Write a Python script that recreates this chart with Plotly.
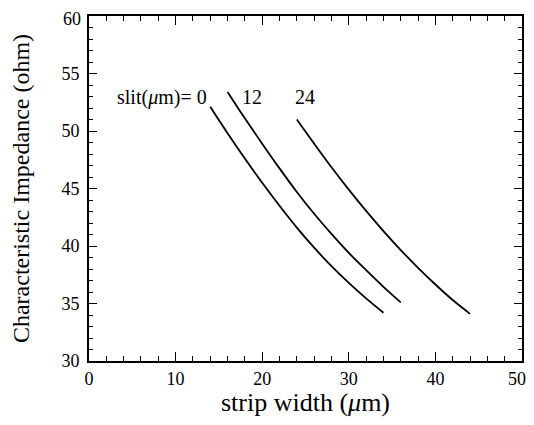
import plotly.graph_objects as go

# strip width (um) and characteristic impedance (ohm) for each slit width
w_slit0 = [14, 16, 18, 20, 22, 24, 26, 28, 30, 32, 34]
z_slit0 = [52.1, 49.8, 47.6, 45.5, 43.5, 41.6, 39.85, 38.25, 36.8, 35.45, 34.2]

w_slit12 = [16, 18, 20, 22, 24, 26, 28, 30, 32, 34, 36]
z_slit12 = [53.4, 51.1, 48.9, 46.75, 44.7, 42.8, 41.05, 39.4, 37.9, 36.45, 35.1]

w_slit24 = [24, 26, 28, 30, 32, 34, 36, 38, 40, 42, 44]
z_slit24 = [51.0, 48.9, 46.85, 44.9, 43.05, 41.3, 39.65, 38.1, 36.65, 35.3, 34.1]

x_ticks = [0, 10, 20, 30, 40, 50]
y_ticks = [30, 35, 40, 45, 50, 55, 60]

FONT = "Liberation Serif"
TICKFONT = dict(family=FONT, size=18, color="black")

fig = go.Figure()
for xs, ys in [(w_slit0, z_slit0), (w_slit12, z_slit12), (w_slit24, z_slit24)]:
    fig.add_trace(go.Scatter(x=xs, y=ys, mode="lines",
                             line=dict(color="black", width=1.8, shape="spline", smoothing=1.0),
                             showlegend=False, hoverinfo="skip"))

fig.add_annotation(x=13.85, y=52.95, text="slit(<i>μ</i>m)= 0", showarrow=False,
                   font=dict(family=FONT, size=20, color="black"),
                   xanchor="right", yanchor="middle")
for txt, xv in [("12", 18.85), ("24", 24.9)]:
    fig.add_annotation(x=xv, y=52.95, text=txt, showarrow=False,
                       font=dict(family=FONT, size=20, color="black"),
                       xanchor="center", yanchor="middle")

# the end labels sit at the page edge, so they are drawn nudged slightly inward
x_text = [str(v) for v in x_ticks[:-1]] + [""]
y_text = [str(v) for v in y_ticks[:-1]] + [""]
fig.add_annotation(x=x_ticks[-1], xref="x", y=0, yref="paper", text=str(x_ticks[-1]),
                   showarrow=False, font=TICKFONT, xanchor="center", yanchor="middle",
                   xshift=-5, yshift=-18)
fig.add_annotation(x=0, xref="paper", y=y_ticks[-1], yref="y", text=str(y_ticks[-1]),
                   showarrow=False, font=TICKFONT, xanchor="right", yanchor="middle",
                   xshift=-6, yshift=-3)

axis_common = dict(
    showgrid=False, zeroline=False, showline=True, linecolor="black", linewidth=2,
    mirror="ticks", ticks="inside", tickcolor="black", tickwidth=1.2,
    tickfont=TICKFONT, automargin=False, ticklabeloverflow="allow",
)

fig.update_xaxes(range=[0, 50], tickvals=x_ticks, ticktext=x_text, ticklen=9,
                 minor=dict(dtick=2, ticks="inside", ticklen=5, tickcolor="black", tickwidth=1),
                 title=dict(text="strip width (<i>μ</i>m)", font=dict(family=FONT, size=26, color="black"), standoff=10),
                 **axis_common)
fig.update_yaxes(range=[30, 60], tickvals=y_ticks, ticktext=y_text, ticklen=8, ticklabelstandoff=4,
                 minor=dict(dtick=1, ticks="inside", ticklen=4, tickcolor="black", tickwidth=1),
                 title=dict(text="Characteristic Impedance (ohm)", font=dict(family=FONT, size=24, color="black"), standoff=26),
                 **axis_common)

fig.update_layout(width=526, height=409, margin=dict(l=81, r=12, t=8, b=56),
                  plot_bgcolor="white", paper_bgcolor="white")

fig.write_html("out.html")
